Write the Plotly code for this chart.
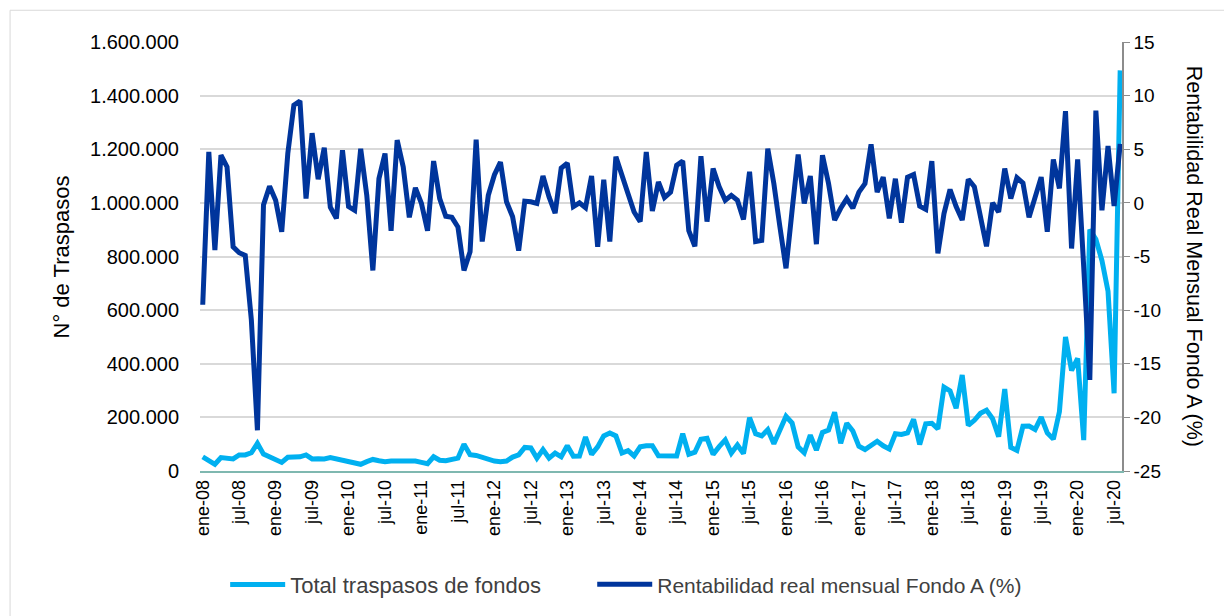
import plotly.graph_objects as go

# ---- data ----
meses = ["ene", "feb", "mar", "abr", "may", "jun", "jul", "ago", "sept", "oct", "nov", "dic"]
periodos = [f"{m}-{str(a)[2:]}" for a in range(2008, 2021) for m in meses][:152]

tick_labels = [p for p in periodos if p.startswith("ene-") or p.startswith("jul-")]

traspasos = [
    53000, 41000, 25000, 50000, 47000, 45000, 60000, 60000, 68000, 103000,
    63000, 53000, 43000, 32000, 51000, 53000, 53000, 60000, 45000, 46000,
    45000, 50000, 45000, 38000, 34000, 29000, 25000, 35000, 43000, 38000,
    35000, 37000, 37000, 37000, 41000, 37000, 32000, 27000, 53000, 40000,
    38000, 45000, 48000, 100000, 61000, 58000, 50000, 41000, 37000, 35000,
    37000, 52000, 60000, 88000, 86000, 48000, 80000, 48000, 67000, 53000,
    94000, 55000, 56000, 127000, 62000, 90000, 131000, 142000, 131000, 67000,
    76000, 56000, 90000, 94000, 94000, 57000, 57000, 56000, 56000, 139000,
    62000, 70000, 118000, 122000, 62000, 91000, 116000, 67000, 97000, 65000,
    199000, 139000, 131000, 154000, 102000, 153000, 204000, 179000, 90000, 68000,
    134000, 78000, 144000, 153000, 219000, 103000, 178000, 149000, 92000, 80000,
    95000, 111000, 94000, 82000, 139000, 136000, 142000, 193000, 99000, 176000,
    178000, 157000, 313000, 299000, 234000, 358000, 170000, 189000, 215000, 227000,
    195000, 128000, 306000, 88000, 77000, 167000, 168000, 155000, 201000, 142000,
    119000, 221000, 500000, 375000, 420000, 115000, 900000, 864000, 785000, 670000,
    290000, 1494000,
]

rentabilidad = [
    -9.5, 4.75, -4.4, 4.45, 3.35, -4.1, -4.65, -4.9, -10.9, -21.2,
    -0.2, 1.55, 0.25, -2.7, 4.6, 9.1, 9.5, 0.4, 6.5, 2.2,
    5.15, -0.4, -1.45, 4.9, -0.35, -0.7, 5.05, 0.7, -6.3, 2.25,
    4.6, -2.6, 5.85, 3.35, -1.35, 1.4, -0.05, -2.6, 3.9, 0.4,
    -1.25, -1.35, -2.25, -6.3, -4.55, 5.9, -3.6, 0.7, 2.6, 3.8,
    0.1, -1.3, -4.45, 0.15, 0.1, -0.05, 2.5, 0.55, -0.95, 3.25,
    3.7, -0.35, 0.0, -0.45, 2.5, -4.1, 2.15, -3.6, 4.3, 2.4,
    0.85, -0.85, -1.75, 4.75, -0.75, 1.95, 0.5, 1.0, 3.5, 3.9,
    -2.6, -4.05, 4.35, -1.75, 3.2, 1.5, 0.25, 0.7, 0.25, -1.55,
    2.9, -3.6, -3.5, 5.05, 1.8, -2.25, -6.1, -0.7, 4.5, -0.05,
    2.5, -3.85, 4.45, 1.8, -1.6, -0.5, 0.4, -0.5, 1.0, 1.8,
    5.45, 1.0, 2.4, -1.45, 2.25, -1.85, 2.4, 2.65, -0.3, -0.6,
    3.9, -4.7, -1.0, 1.25, -0.35, -1.6, 2.2, 1.5, -1.15, -4.05,
    0.0, -0.85, 3.2, 0.4, 2.35, 1.85, -1.35, 0.6, 2.4, -2.7,
    4.05, 1.35, 8.55, -4.25, 4.05, -6.0, -16.5, 8.6, -0.7, 5.3,
    -0.3, 5.5,
]

left_ticks = [0, 200000, 400000, 600000, 800000, 1000000, 1200000, 1400000, 1600000]
right_ticks = [-25, -20, -15, -10, -5, 0, 5, 10, 15]

FONT = "Liberation Sans"
TXT = "#000000"

fig = go.Figure()
fig.add_trace(go.Scatter(
    x=periodos, y=traspasos, name="Total traspasos de fondos",
    mode="lines", line=dict(color="#00b0f0", width=5), yaxis="y", legend="legend",
))
fig.add_trace(go.Scatter(
    x=periodos, y=rentabilidad, name="Rentabilidad real mensual Fondo A (%)",
    mode="lines", line=dict(color="#00359c", width=5), yaxis="y2", legend="legend2",
))

fig.update_layout(
    width=1232, height=616,
    margin=dict(l=192, r=118, t=34, b=153),
    paper_bgcolor="white", plot_bgcolor="white",
    separators=",.",
    font=dict(family=FONT, size=19, color=TXT),
    showlegend=True,
    legend=dict(orientation="h", x=0.0273, xanchor="left", y=-0.265, yanchor="middle",
                font=dict(size=22, color="#404040"), itemwidth=55, bgcolor="rgba(0,0,0,0)"),
    legend2=dict(orientation="h", x=0.4254, xanchor="left", y=-0.265, yanchor="middle",
                 font=dict(size=21, color="#404040"), itemwidth=55, bgcolor="rgba(0,0,0,0)"),
    xaxis=dict(
        type="category", range=[-0.45, 151.3],
        tickmode="array", tickvals=tick_labels, ticktext=tick_labels,
        tickangle=-90, showgrid=False, zeroline=False,
        showline=True, linecolor="#7fb8b0", linewidth=1.5,
        ticks="", tickfont=dict(size=18, color=TXT),
    ),
    yaxis=dict(
        range=[0, 1600000], tickvals=left_ticks, tickformat=",.0f",
        showgrid=True, gridcolor="#d9d9d9", gridwidth=1.5,
        zeroline=False, showline=False, ticks="",
        tickfont=dict(size=20, color=TXT), ticklabelstandoff=20,
    ),
    yaxis2=dict(
        range=[-25, 15], overlaying="y", side="right",
        tickvals=right_ticks, ticktext=[str(v) for v in right_ticks],
        showgrid=False, zeroline=False,
        showline=True, linecolor="#8c8c8c", linewidth=1.5,
        ticks="outside", ticklen=6, tickcolor="#8c8c8c",
        tickfont=dict(size=19, color=TXT),
    ),
    annotations=[
        dict(text="N° de Traspasos", xref="paper", yref="paper",
             x=-0.1497, y=0.5, xanchor="center", yanchor="middle",
             textangle=-90, showarrow=False, font=dict(size=22, color=TXT)),
        dict(text="Rentabilidad Real Mensual Fondo A (%)", xref="paper", yref="paper",
             x=1.079, y=0.5, xanchor="center", yanchor="middle",
             textangle=90, showarrow=False, font=dict(size=21.5, color=TXT)),
    ],
    shapes=[
        dict(type="rect", xref="paper", yref="paper",
             x0=-0.206, x1=1.113, y0=-0.35, y1=1.074,
             line=dict(color="#d9d9d9", width=1), fillcolor="rgba(0,0,0,0)", layer="below"),
    ],
)

fig.write_html("out.html")
